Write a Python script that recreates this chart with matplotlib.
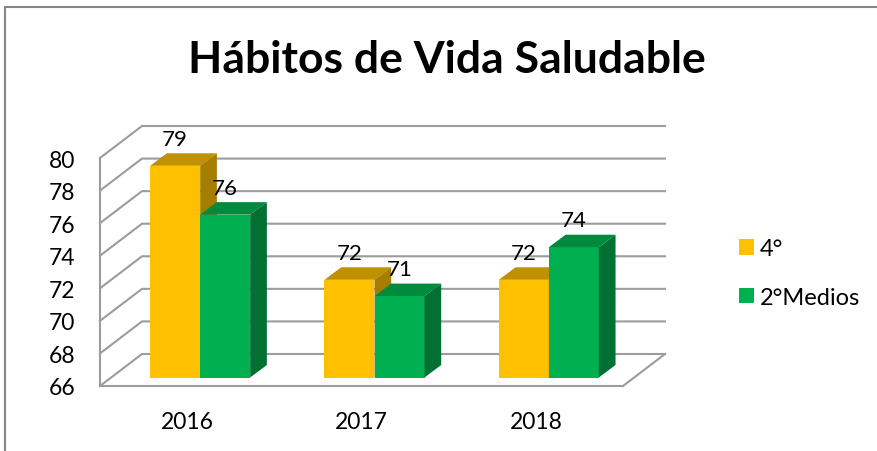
import matplotlib
matplotlib.use('Agg')
import matplotlib.pyplot as plt
from matplotlib.lines import Line2D
from matplotlib.patches import Patch, Polygon
from matplotlib.transforms import Affine2D

# datos
years = ['2016', '2017', '2018']
cuarto = [79, 72, 72]
medios = [76, 71, 74]
series_names = ['4°', '2°Medios']
y_ticks = [66, 68, 70, 72, 74, 76, 78, 80]

plt.rcParams['font.family'] = ['Lato', 'DejaVu Sans']
W, H = 877, 452
fig = plt.figure(figsize=(W / 100, H / 100), dpi=100)
ax = fig.add_axes([100 / W, (H - 387) / H, 523 / W, 228 / H])
ax.set_xlim(-0.5, 2.5)
ax.set_ylim(66, 80)
ax.patch.set_alpha(0)

# px -> unidades de datos
ux = 523 / 3
uy = 228 / 14
grey = '#9c9c9c'

# pared de fondo y piso
back_x, back_y = 42 / ux, 32 / uy
for v in y_ticks:
    ax.plot([-0.5, -0.5 + back_x, 2.5 + back_x], [v, v + back_y, v + back_y],
            color=grey, lw=1.5, clip_on=False, zorder=1, solid_joinstyle='miter')
ax.plot([2.5, 2.5 + back_x], [66, 66 + back_y], color=grey, lw=1.5, clip_on=False, zorder=1)

# barras: desplazadas dentro de la profundidad del piso
offset = ax.transData + Affine2D().translate(13, 8.5)
bar_w = 50 / ux
side_x, side_y = 16.7 / ux, 12.5 / uy


def draw_bar(x, v, front, top, side, z):
    ax.bar(x, v - 66, bar_w, bottom=66, color=front, transform=offset, clip_on=False, zorder=z)
    left, right = x - bar_w / 2, x + bar_w / 2
    ax.add_patch(Polygon([(left, v), (right, v), (right + side_x, v + side_y), (left + side_x, v + side_y)],
                         closed=True, fc=top, ec='none', transform=offset, clip_on=False, zorder=z))
    ax.add_patch(Polygon([(right, 66), (right, v), (right + side_x, v + side_y), (right + side_x, 66 + side_y)],
                         closed=True, fc=side, ec='none', transform=offset, clip_on=False, zorder=z))
    ax.text(x, v, str(v), transform=offset + Affine2D().translate(0, 27), ha='center', va='center',
            fontsize=16, color='black', zorder=10, clip_on=False)


for i in range(len(years)):
    draw_bar(i - bar_w / 2, cuarto[i], '#ffc000', '#bf9000', '#a67d00', 3 + i * 2)
    draw_bar(i + bar_w / 2, medios[i], '#00b050', '#008a3e', '#007033', 4 + i * 2)

# ejes
ax.set_xticks(range(len(years)))
ax.set_xticklabels(years)
ax.set_yticks(y_ticks)
ax.tick_params(axis='x', length=0, pad=18, labelsize=16.5)
ax.tick_params(axis='y', length=0, pad=18, labelsize=16.5)
for s in ['top', 'right']:
    ax.spines[s].set_visible(False)
for s in ['left', 'bottom']:
    ax.spines[s].set_color(grey)
    ax.spines[s].set_linewidth(1.5)
    ax.spines[s].set_zorder(2)

fig.text(447 / W, (H - 60) / H, 'Hábitos de Vida Saludable', ha='center', va='center',
         fontsize=32, fontweight='bold', color='black')

handles = [Patch(fc='#ffc000', ec='none'), Patch(fc='#00b050', ec='none')]
fig.legend(handles, series_names, loc='center left', bbox_to_anchor=(739 / W, (H - 274) / H),
           frameon=False, fontsize=17, handlelength=0.635, handleheight=0.635, handletextpad=0.25,
           labelspacing=1.15, borderpad=0, borderaxespad=0)

# marco del gráfico
frame = '#868686'
fig.add_artist(Line2D([4.5 / W, 4.5 / W, 1], [0, (H - 8) / H, (H - 8) / H], color=frame, lw=1.5,
                      transform=fig.transFigure))

fig.savefig('out.png', dpi=100)
